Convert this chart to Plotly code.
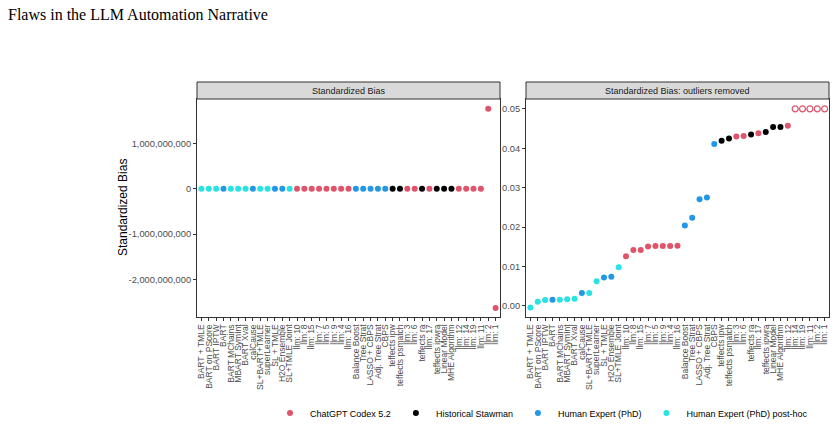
import plotly.graph_objects as go

W, H = 835, 429

categories = [
    "BART + TMLE", "BART on PScore", "BART IPTW", "BART", "BART MChains",
    "MBART SymInt", "BART Xval", "calCause", "SL+BART+TMLE", "superLearner",
    "SL + TMLE", "H2O Ensemble", "SL+TMLE Joint", "llm: 10", "llm: 8",
    "llm: 15", "llm: 7", "llm: 5", "llm: 9", "llm: 4", "llm: 16",
    "Balance Boost", "Tree Strat", "LASSO + CBPS", "Adj. Tree Strat", "CBPS",
    "teffects ipw", "teffects psmatch", "llm: 3", "llm: 6", "teffects ra",
    "llm: 17", "teffects ipwra", "Linear Model", "MHE Algorithm", "llm: 12",
    "llm: 14", "llm: 19", "llm: 11", "llm: 2", "llm: 1",
]

G_LLM = "ChatGPT Codex 5.2"
G_HS = "Historical Stawman"
G_PHD = "Human Expert (PhD)"
G_POST = "Human Expert (PhD) post-hoc"

groups = [
    G_POST, G_POST, G_POST, G_PHD, G_POST,
    G_POST, G_POST, G_PHD, G_POST, G_POST,
    G_PHD, G_PHD, G_POST, G_LLM, G_LLM,
    G_LLM, G_LLM, G_LLM, G_LLM, G_LLM, G_LLM,
    G_PHD, G_PHD, G_PHD, G_PHD, G_PHD,
    G_HS, G_HS, G_LLM, G_LLM, G_HS,
    G_LLM, G_HS, G_HS, G_HS, G_LLM,
    G_LLM, G_LLM, G_LLM, G_LLM, G_LLM,
]

bias = [
    -0.0004, 0.0011, 0.0015, 0.0016, 0.0016,
    0.0017, 0.0018, 0.0033, 0.0033, 0.0063,
    0.0072, 0.0074, 0.0098, 0.0126, 0.0142,
    0.0142, 0.0151, 0.0152, 0.0152, 0.0152, 0.0153,
    0.0204, 0.0224, 0.0271, 0.0275, 0.0411,
    0.0419, 0.0425, 0.0430, 0.0431, 0.0435,
    0.0438, 0.0441, 0.0454, 0.0454, 0.0457,
    0.058, 0.094, 0.31, 1.76e9, -2.63e9,
]

outlier_cap = 0.05

group_order = [G_LLM, G_HS, G_PHD, G_POST]
group_colors = {G_LLM: "#DF536B", G_HS: "#000000", G_PHD: "#2297E6", G_POST: "#28E2E5"}

left_ticks = [1e9, 0, -1e9, -2e9]
left_ticktext = ["1,000,000,000", "0", "-1,000,000,000", "-2,000,000,000"]
right_ticks = [0.00, 0.01, 0.02, 0.03, 0.04, 0.05]

strip_titles = ["Standardized Bias", "Standardized Bias: outliers removed"]
y_title = "Standardized Bias"
title = "Flaws in the LLM Automation Narrative"

fig = go.Figure()

# left panel: raw values
for g in group_order:
    xs = [c for c, gg in zip(categories, groups) if gg == g]
    ys = [v for v, gg in zip(bias, groups) if gg == g]
    fig.add_trace(go.Scatter(x=xs, y=ys, mode="markers", name=g,
                             marker=dict(color=group_colors[g], size=6),
                             xaxis="x", yaxis="y", legendgroup=g, showlegend=True))

# right panel: outliers capped
for g in group_order:
    xs = [c for c, gg, v in zip(categories, groups, bias) if gg == g and abs(v) <= outlier_cap]
    ys = [v for v, gg in zip(bias, groups) if gg == g and abs(v) <= outlier_cap]
    fig.add_trace(go.Scatter(x=xs, y=ys, mode="markers", name=g,
                             marker=dict(color=group_colors[g], size=6),
                             xaxis="x2", yaxis="y2", legendgroup=g, showlegend=False))
    xo = [c for c, gg, v in zip(categories, groups, bias) if gg == g and abs(v) > outlier_cap]
    if xo:
        fig.add_trace(go.Scatter(x=xo, y=[outlier_cap] * len(xo), mode="markers", name=g,
                                 marker=dict(color=group_colors[g], size=6, symbol="circle-open",
                                             line=dict(width=1.2, color=group_colors[g])),
                                 xaxis="x2", yaxis="y2", legendgroup=g, showlegend=False))

px_x = lambda p: p / W
px_y = lambda p: 1 - p / H

L0, L1 = 197, 500
R0, R1 = 526, 829
T, B = 99, 317
ST = 82

n = len(categories)
tickfont_x = dict(family="Liberation Sans, Arial, sans-serif", size=8.5, color="#4D4D4D")
tickfont_y = dict(family="Liberation Sans, Arial, sans-serif", size=9.3, color="#4D4D4D")

xcommon = dict(type="category", categoryorder="array", categoryarray=categories,
               tickmode="array", tickvals=categories, ticktext=categories,
               range=[-0.6, n - 0.4], tickangle=-90, tickfont=tickfont_x,
               showline=True, mirror=True, linecolor="#333333", linewidth=1,
               ticks="outside", ticklen=3, tickcolor="#333333", showgrid=False,
               zeroline=False, automargin=False)
ycommon = dict(showline=True, mirror=True, linecolor="#333333", linewidth=1,
               ticks="outside", ticklen=3, tickcolor="#333333", showgrid=False,
               zeroline=False, tickfont=tickfont_y, automargin=False)

fig.update_layout(
    width=W, height=H,
    margin=dict(l=0, r=0, t=0, b=0, autoexpand=False),
    paper_bgcolor="white", plot_bgcolor="white",
    font=dict(family="Liberation Sans, Arial, sans-serif"),
    xaxis=dict(domain=[px_x(L0), px_x(L1)], anchor="y", **xcommon),
    xaxis2=dict(domain=[px_x(R0), px_x(R1)], anchor="y2", **xcommon),
    yaxis=dict(domain=[px_y(B), px_y(T)], anchor="x", range=[-2.826e9, 1.976e9],
               tickvals=left_ticks, ticktext=left_ticktext, **ycommon),
    yaxis2=dict(domain=[px_y(B), px_y(T)], anchor="x2", range=[-0.0028, 0.0525],
                tickvals=right_ticks, tickformat=".2f", **ycommon),
    showlegend=True,
    legend=dict(orientation="h", xref="paper", yref="paper",
                x=270 / W, xanchor="left", y=px_y(413), yanchor="middle",
                font=dict(size=9, color="black"), itemwidth=30,
                bgcolor="rgba(0,0,0,0)", tracegroupgap=0),
    title=dict(text=title, x=8 / W, xanchor="left", xref="container",
               y=1 - 14 / H, yanchor="middle", yref="container",
               font=dict(family="Liberation Serif, Times New Roman, serif", size=16, color="black")),
)

shapes = []
annotations = []
for (a, b), txt in zip([(L0, L1), (R0, R1)], strip_titles):
    shapes.append(dict(type="rect", xref="paper", yref="paper",
                       x0=px_x(a), x1=px_x(b), y0=px_y(T), y1=px_y(ST),
                       fillcolor="#D9D9D9", line=dict(color="#333333", width=1)))
    annotations.append(dict(text=txt, xref="paper", yref="paper",
                            x=px_x((a + b) / 2), y=px_y((T + ST) / 2),
                            xanchor="center", yanchor="middle", showarrow=False,
                            font=dict(size=9, color="#1A1A1A")))
annotations.append(dict(text=y_title, xref="paper", yref="paper",
                        x=px_x(123), y=px_y((T + B) / 2), textangle=-90,
                        xanchor="center", yanchor="middle", showarrow=False,
                        font=dict(size=12, color="black")))
fig.update_layout(shapes=shapes, annotations=annotations)

fig.write_html("out.html")
